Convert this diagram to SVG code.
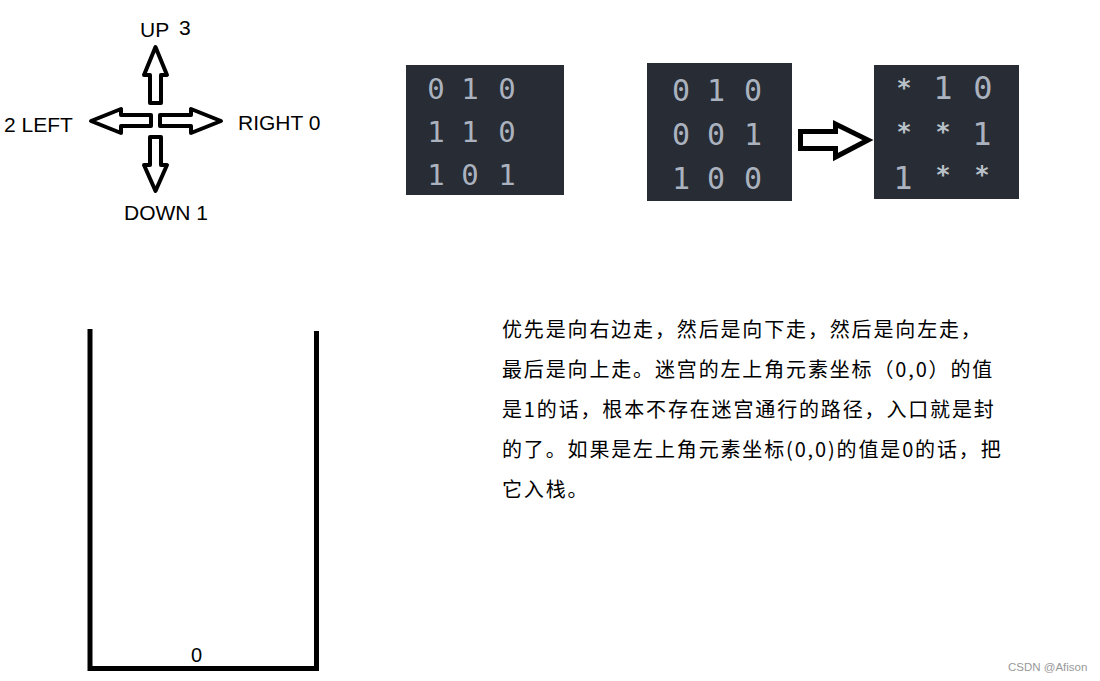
<svg xmlns="http://www.w3.org/2000/svg" width="1100" height="681" viewBox="0 0 1100 681">
<style>
.lbl{font-family:"Liberation Sans",Arial,sans-serif;font-size:21px;fill:#000}
.arr{fill:#fff;stroke:#000;stroke-width:4;stroke-linejoin:round}
.box{fill:#282c34}
.d1{font-family:"DejaVu Sans Mono","Liberation Mono",monospace;font-size:29px;fill:#abb2bf;text-anchor:middle}
.d2{font-family:"DejaVu Sans Mono","Liberation Mono",monospace;font-size:30px;fill:#abb2bf;text-anchor:middle}
.d3{font-family:"DejaVu Sans Mono","Liberation Mono",monospace;font-size:32px;fill:#abb2bf;text-anchor:middle}
.st{font-family:"DejaVu Sans Mono","Liberation Mono",monospace;font-size:25px;font-weight:bold;fill:#b8c0c8;text-anchor:middle}
.para{font-family:"Noto Sans CJK SC","Noto Sans",sans-serif;font-size:20px;letter-spacing:1.85px;fill:#000}
.wall{fill:none;stroke:#000;stroke-width:5;stroke-linecap:butt}
</style>
<rect width="1100" height="681" fill="#fff"/>
<g id="compass">
<polygon class="arr" points="155.5,47 167,75 161,75 161,103 150,103 150,75 144,75"/>
<polygon class="arr" points="91,121 121,109 121,115 151,115 151,126 121,126 121,133"/>
<polygon class="arr" points="221,121 191,109 191,115 160,115 160,126 191,126 191,133"/>
<polygon class="arr" points="155.5,191 167,165 161,165 161,137 150,137 150,165 144,165"/>
<text class="lbl" x="140" y="37">UP</text>
<text class="lbl" x="179" y="35">3</text>
<text class="lbl" x="4" y="132">2 LEFT</text>
<text class="lbl" x="238" y="130">RIGHT 0</text>
<text class="lbl" x="124" y="220">DOWN 1</text>
</g>
<g id="maze1">
<rect class="box" x="406" y="65" width="158" height="130"/>
<text class="d1" x="436" y="99">0</text><text class="d1" x="470" y="99">1</text><text class="d1" x="507" y="99">0</text>
<text class="d1" x="436" y="142">1</text><text class="d1" x="470" y="142">1</text><text class="d1" x="507" y="142">0</text>
<text class="d1" x="436" y="185">1</text><text class="d1" x="470" y="185">0</text><text class="d1" x="507" y="185">1</text>
</g>
<g id="maze2">
<rect class="box" x="647" y="63" width="145" height="138"/>
<text class="d2" x="681" y="101">0</text><text class="d2" x="716" y="101">1</text><text class="d2" x="753" y="101">0</text>
<text class="d2" x="681" y="145">0</text><text class="d2" x="716" y="145">0</text><text class="d2" x="753" y="145">1</text>
<text class="d2" x="681" y="189">1</text><text class="d2" x="716" y="189">0</text><text class="d2" x="753" y="189">0</text>
</g>
<g id="maze3">
<rect class="box" x="874" y="65" width="145" height="134"/>
<text class="st" x="904" y="96">*</text><text class="d3" x="943" y="99">1</text><text class="d3" x="983" y="99">0</text>
<text class="st" x="904" y="140">*</text><text class="st" x="943" y="140">*</text><text class="d3" x="982" y="145">1</text>
<text class="d3" x="903" y="189">1</text><text class="st" x="943" y="183">*</text><text class="st" x="982" y="183">*</text>
</g>
<g id="connectors">
<polygon points="800.5,131.5 835.5,131.5 835.5,124 868,140 835.5,157 835.5,148.5 800.5,148.5" fill="#fff" stroke="#000" stroke-width="5" stroke-linejoin="miter"/>
</g>
<g id="stack">
<polyline class="wall" points="90,329 90,668.5 316.5,668.5 316.5,331"/>
<text class="lbl" x="191" y="662" style="font-size:20px">0</text>
</g>
<g id="description">
<text class="para" x="502" y="337">优先是向右边走，然后是向下走，然后是向左走，</text>
<text class="para" x="502" y="377">最后是向上走。迷宫的左上角元素坐标（0,0）的值</text>
<text class="para" x="502" y="417">是1的话，根本不存在迷宫通行的路径，入口就是封</text>
<text class="para" x="502" y="457">的了。如果是左上角元素坐标(0,0)的值是0的话，把</text>
<text class="para" x="502" y="497">它入栈。</text>
</g>
<text x="1008" y="671" style="font-family:'Liberation Sans',Arial,sans-serif;font-size:11.5px;fill:#999">CSDN @Afison</text>
</svg>
